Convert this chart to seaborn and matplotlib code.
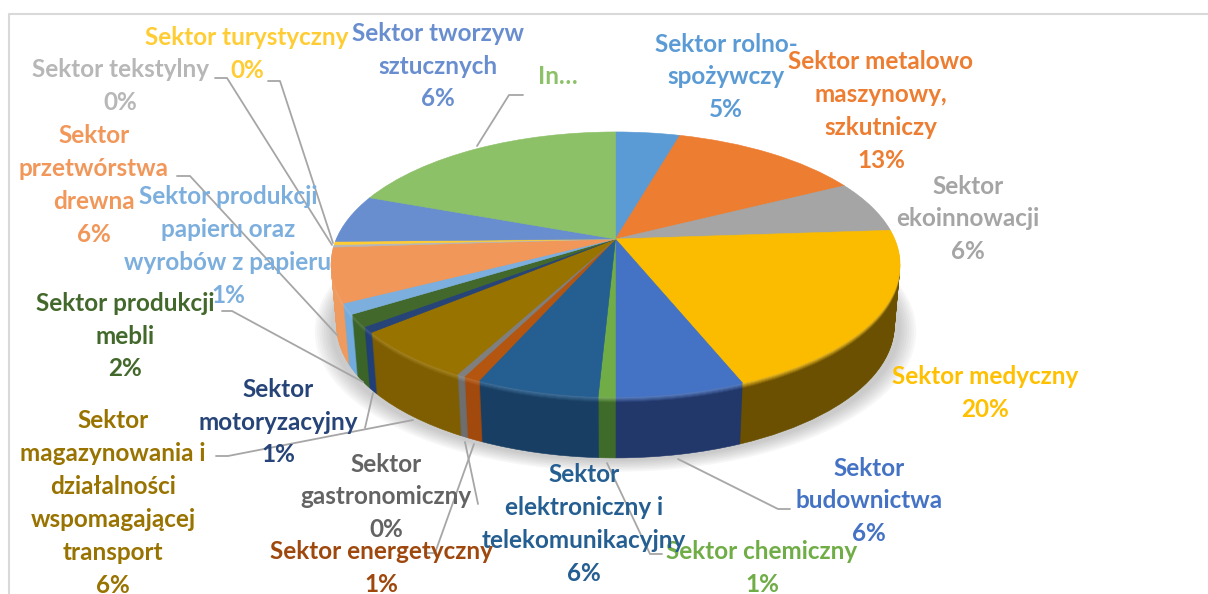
import numpy as np
import seaborn as sns
import matplotlib
matplotlib.use('Agg')
import matplotlib.pyplot as plt
from matplotlib.colors import to_rgb
from matplotlib.transforms import Transform

sectors = ['rolno', 'metal', 'eko', 'medyczny', 'budownictwo', 'chemiczny', 'elektronika',
           'energetyczny', 'gastronomiczny', 'magazynowanie', 'motoryzacyjny', 'meble',
           'papier', 'drewno', 'tekstylny', 'turystyczny', 'tworzywa', 'inne']
shares = [4.4, 13.1, 6.4, 20.0, 6.1, 0.8, 5.8, 0.8, 0.4, 6.1, 0.7, 1.5, 1.3, 6.6, 0.3, 0.4, 5.9, 19.4]
labels = ['Sektor rolno-\nspożywczy\n5%', 'Sektor metalowo\nmaszynowy,\nszkutniczy\n13%',
          'Sektor\nekoinnowacji\n6%', 'Sektor medyczny\n20%', 'Sektor\nbudownictwa\n6%',
          'Sektor chemiczny\n1%', 'Sektor\nelektroniczny i\ntelekomunikacyjny\n6%',
          'Sektor energetyczny\n1%', 'Sektor\ngastronomiczny\n0%',
          'Sektor\nmagazynowania i\ndziałalności\nwspomagającej\ntransport\n6%',
          'Sektor\nmotoryzacyjny\n1%', 'Sektor produkcji\nmebli\n2%',
          'Sektor produkcji\npapieru oraz\nwyrobów z papieru\n1%',
          'Sektor\nprzetwórstwa\ndrewna\n6%', 'Sektor tekstylny\n0%', 'Sektor turystyczny\n0%',
          'Sektor tworzyw\nsztucznych\n6%', 'In…']

top_colors = ['#5B9BD5', '#ED7D31', '#A5A5A5', '#FBBC00', '#4472C4', '#70AD47', '#255E91',
              '#B4560F', '#7F7F7F', '#997300', '#264478', '#43682B', '#7CAFDD', '#F1975A',
              '#B7B7B7', '#FFCD33', '#698ED0', '#8CC168']
wall_colors = ['#3A6A96', '#A85520', '#707070', '#6A5000', '#22376A', '#3F6B2A', '#183F63',
               '#A2490D', '#6E6E6E', '#7E5E00', '#203E77', '#3B6428', '#72ACDF', '#EF9A5E',
               '#B0B0B0', '#FFCD33', '#5070B0', '#6A9A4A']
text_colors = ['#5B9BD5', '#ED7D31', '#A5A5A5', '#FFC000', '#4472C4', '#70AD47', '#255E91',
               '#9E480E', '#636363', '#997300', '#264478', '#43682B', '#7CAFDD', '#F1975A',
               '#B7B7B7', '#FFCD33', '#698ED0', '#8CC168']
label_x = [726, 881, 968, 985, 869, 762, 584, 381, 386, 113, 278, 125, 228, 94, 120, 247, 438, 558]
label_y = [77, 111, 219, 393, 501, 568, 524, 568, 497, 503, 422, 336, 246, 185, 86, 54, 66, 76]

leaders = [
    ([477, 509, 523], [146, 95, 95]),
    ([268, 280, 333], [81, 81, 243]),
    ([215, 227, 332], [78, 78, 245]),
    ([177, 190, 337], [176, 176, 335]),
    ([222, 232, 363], [311, 311, 382]),
    ([373, 365], [393, 428]),
    ([216, 228, 413], [456, 456, 420]),
    ([465, 478], [442, 504]),
    ([474, 435, 425], [444, 553, 553]),
    ([607, 650, 662], [463, 554, 554]),
    ([678, 778, 790], [459, 509, 509]),
]


class PieView(Transform):
    # perspective view of the unit pie, lowered by drop pixels
    input_dims = 2
    output_dims = 2

    def __init__(self, drop=0, shrink=1.0):
        super().__init__()
        self.drop = drop
        self.shrink = shrink

    def transform_non_affine(self, values):
        x, y = values[:, 0], values[:, 1]
        d = 1 + 0.192 * y
        return np.column_stack((615.5 + 279.2 * self.shrink * x / d,
                                239 - 127.6 * y / d + self.drop))


def draw_layer(ax, colors, drop, shrink=1.0):
    wedges, _ = ax.pie(shares, colors=colors, startangle=90, counterclock=False,
                       labeldistance=None, wedgeprops={'linewidth': 0.4})
    for w, c in zip(wedges, colors):
        w.set_edgecolor(c)
        w.set_transform(PieView(drop, shrink) + ax.transData)


sns.set_theme(style='white')
plt.rcParams['font.family'] = ['Lato', 'DejaVu Sans']

fig = plt.figure(figsize=(12.08, 5.94), dpi=100)
ax = fig.add_axes([0, 0, 1, 1])

depth = 61
# soft shadow under the pie
for r in np.linspace(1.055, 1.0, 8):
    wedges, _ = ax.pie([1], colors=['#707070'], radius=r, labeldistance=None,
                       wedgeprops={'linewidth': 0, 'alpha': 0.05})
    wedges[0].set_transform(PieView(depth + 3) + ax.transData)

# side wall, bright at the rim and darker below
ramps = []
for top, wall in zip(top_colors, wall_colors):
    rim = tuple(min(1, v * 0.85 + 0.15) for v in to_rgb(top))
    ramps.append(sns.blend_palette([rim, wall], 7) + [to_rgb(wall)] * (depth - 6))
for k in range(depth, 0, -1):
    draw_layer(ax, [r[k] for r in ramps], k, 1 - 0.02 * k / depth)

draw_layer(ax, top_colors, 0)

ax.set(xlim=(0, 1208), ylim=(594, 0), aspect='auto')
ax.axis('off')

ax.plot([9, 9, 1208], [594, 14, 14], color='#D9D9D9', lw=1.5)
for lx, ly in leaders:
    ax.plot(lx, ly, color='#A6A6A6', lw=1.3)

for name, text, c, x, y in zip(sectors, labels, text_colors, label_x, label_y):
    ax.text(x, y, text, color=c, ha='center', va='center', fontsize=17.5,
            fontweight='bold', linespacing=1.52)

fig.savefig('out.png', dpi=100)
plt.close()
